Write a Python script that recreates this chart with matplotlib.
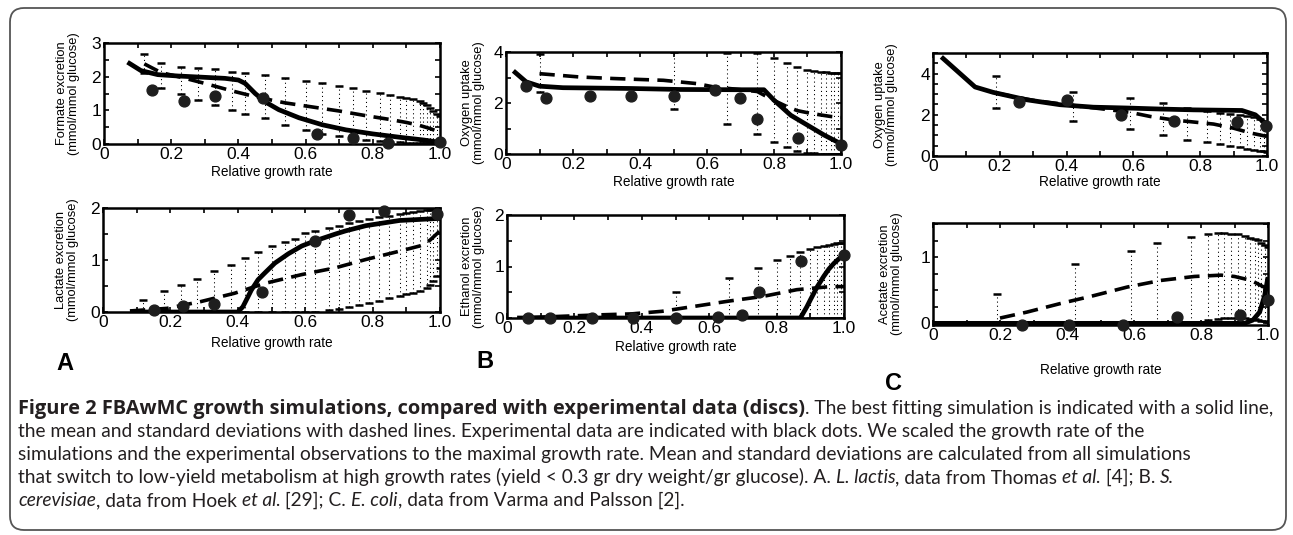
import numpy as np
import matplotlib
matplotlib.use('Agg')
import matplotlib.pyplot as plt
from matplotlib.patches import FancyBboxPatch
from matplotlib.transforms import IdentityTransform
from matplotlib.ticker import MultipleLocator, FixedLocator

plt.rcParams['font.family'] = ['Liberation Sans', 'DejaVu Sans']
plt.rcParams['lines.scale_dashes'] = False

# ---- A top: formate excretion (L. lactis)
formate_fit_x = [0.07, 0.11, 0.16, 0.22, 0.30, 0.36, 0.40, 0.42, 0.45, 0.48, 0.52, 0.58, 0.65, 0.72, 0.80, 0.88, 0.95, 1.00]
formate_fit_y = [2.43, 2.18, 2.06, 2.02, 1.98, 1.95, 1.90, 1.80, 1.50, 1.25, 1.02, 0.78, 0.57, 0.42, 0.30, 0.20, 0.12, 0.05]
formate_mean_x = [0.12, 0.17, 0.23, 0.30, 0.38, 0.46, 0.54, 0.62, 0.70, 0.78, 0.85, 0.90, 0.94, 0.97, 1.00]
formate_mean_y = [2.38, 2.12, 1.98, 1.80, 1.58, 1.38, 1.22, 1.10, 0.98, 0.84, 0.73, 0.64, 0.55, 0.46, 0.35]
formate_bar_x = [0.12, 0.17, 0.23, 0.28, 0.33, 0.38, 0.42, 0.48, 0.54, 0.60, 0.65, 0.70, 0.74, 0.78, 0.82, 0.85, 0.88, 0.90, 0.92, 0.94, 0.95, 0.96, 0.97, 0.98, 0.99, 1.00]
formate_bar_hi = [2.68, 2.40, 2.30, 2.26, 2.22, 2.15, 2.12, 2.05, 1.97, 1.87, 1.80, 1.72, 1.65, 1.58, 1.52, 1.46, 1.41, 1.37, 1.33, 1.28, 1.22, 1.15, 1.08, 0.98, 0.90, 0.82]
formate_bar_lo = [2.10, 1.67, 1.50, 1.31, 1.15, 1.02, 0.88, 0.76, 0.55, 0.42, 0.31, 0.23, 0.17, 0.12, 0.08, 0.06, 0.05, 0.04, 0.03, 0.03, 0.02, 0.02, 0.02, 0.02, 0.02, 0.02]
formate_exp_x = [0.143, 0.237, 0.33, 0.474, 0.633, 0.74, 0.845, 1.0]
formate_exp_y = [1.59, 1.27, 1.43, 1.38, 0.31, 0.17, 0.03, 0.05]

# ---- B top: oxygen uptake (S. cerevisiae)
oxy_sc_fit_x = [0.022, 0.06, 0.10, 0.17, 0.37, 0.52, 0.70, 0.77, 0.80, 0.85, 0.90, 0.95, 1.00]
oxy_sc_fit_y = [3.26, 2.83, 2.66, 2.60, 2.57, 2.53, 2.52, 2.52, 2.11, 1.52, 1.13, 0.74, 0.40]
oxy_sc_mean_x = [0.10, 0.22, 0.32, 0.47, 0.57, 0.62, 0.68, 0.75, 0.80, 0.84, 0.87, 0.90, 0.94, 0.97, 1.00]
oxy_sc_mean_y = [3.15, 3.02, 2.96, 2.89, 2.76, 2.63, 2.55, 2.45, 2.10, 1.85, 1.70, 1.62, 1.53, 1.47, 1.43]
oxy_sc_bar_x = [0.10, 0.50, 0.66, 0.75, 0.80, 0.84, 0.87, 0.90, 0.92, 0.94, 0.955, 0.97, 0.98, 0.99, 1.00]
oxy_sc_bar_hi = [3.93, 4.00, 3.95, 3.96, 3.78, 3.57, 3.41, 3.30, 3.26, 3.23, 3.21, 3.19, 3.18, 3.17, 3.16]
oxy_sc_bar_lo = [2.44, 1.75, 1.16, 0.77, 0.48, 0.29, 0.13, 0.05, 0.02, 0.01, 0.0, 0.0, 0.0, 0.0, 0.0]
oxy_sc_exp_x = [0.06, 0.12, 0.25, 0.373, 0.50, 0.624, 0.70, 0.75, 0.873, 1.0]
oxy_sc_exp_y = [2.66, 2.18, 2.28, 2.28, 2.28, 2.50, 2.20, 1.37, 0.64, 0.35]

# ---- C top: oxygen uptake (E. coli)
oxy_ec_fit_x = [0.025, 0.126, 0.18, 0.28, 0.38, 0.48, 0.58, 0.68, 0.78, 0.925, 0.965, 1.0]
oxy_ec_fit_y = [4.81, 3.35, 3.09, 2.73, 2.49, 2.37, 2.33, 2.28, 2.24, 2.21, 2.00, 1.51]
oxy_ec_mean_x = [0.19, 0.30, 0.42, 0.50, 0.59, 0.65, 0.72, 0.78, 0.84, 0.90, 0.95, 1.00]
oxy_ec_mean_y = [3.05, 2.70, 2.45, 2.30, 2.12, 1.92, 1.75, 1.65, 1.55, 1.35, 1.12, 0.95]
oxy_ec_bar_x = [0.19, 0.42, 0.59, 0.69, 0.76, 0.82, 0.86, 0.89, 0.92, 0.94, 0.96, 0.98, 0.99, 1.0]
oxy_ec_bar_hi = [3.90, 3.10, 2.80, 2.58, 2.35, 2.20, 2.10, 2.05, 2.00, 1.95, 1.88, 1.78, 1.70, 1.60]
oxy_ec_bar_lo = [2.35, 1.70, 1.30, 1.00, 0.80, 0.68, 0.58, 0.50, 0.42, 0.36, 0.30, 0.25, 0.22, 0.20]
oxy_ec_exp_x = [0.258, 0.402, 0.563, 0.722, 0.909, 0.997]
oxy_ec_exp_y = [2.62, 2.70, 2.00, 1.72, 1.64, 1.46]

# ---- A bottom: lactate excretion
lactate_fit_x = [0.08, 0.20, 0.30, 0.40, 0.415, 0.43, 0.44, 0.46, 0.48, 0.51, 0.55, 0.59, 0.63, 0.69, 0.72, 0.78, 0.85, 0.88, 0.94, 1.00]
lactate_fit_y = [0.0, 0.0, 0.0, 0.0, 0.10, 0.29, 0.42, 0.62, 0.75, 0.94, 1.12, 1.27, 1.37, 1.50, 1.56, 1.66, 1.73, 1.76, 1.78, 1.80]
lactate_mean_x = [0.08, 0.19, 0.29, 0.39, 0.48, 0.59, 0.69, 0.78, 0.88, 0.94, 0.97, 1.00]
lactate_mean_y = [0.02, 0.07, 0.20, 0.36, 0.55, 0.72, 0.85, 1.01, 1.17, 1.27, 1.38, 1.56]
lactate_bar_x = [0.12, 0.18, 0.23, 0.28, 0.33, 0.38, 0.42, 0.46, 0.50, 0.54, 0.57, 0.60, 0.63, 0.67, 0.70, 0.73, 0.76, 0.79, 0.82, 0.85, 0.88, 0.90, 0.92, 0.94, 0.96, 0.97, 0.98, 0.99, 1.00]
lactate_bar_hi = [0.24, 0.41, 0.52, 0.63, 0.78, 0.91, 1.03, 1.16, 1.27, 1.35, 1.41, 1.51, 1.56, 1.61, 1.66, 1.71, 1.75, 1.79, 1.82, 1.85, 1.88, 1.90, 1.92, 1.94, 1.96, 1.97, 1.98, 1.99, 2.00]
lactate_bar_lo = [0.0, 0.0, 0.0, 0.0, 0.0, 0.0, 0.0, 0.0, 0.0, 0.0, 0.0, 0.0, 0.0, 0.03, 0.06, 0.10, 0.14, 0.18, 0.22, 0.26, 0.30, 0.34, 0.37, 0.41, 0.47, 0.52, 0.60, 0.70, 0.85]
lactate_exp_x = [0.15, 0.237, 0.33, 0.473, 0.63, 0.73, 0.835, 0.99]
lactate_exp_y = [0.03, 0.11, 0.16, 0.38, 1.37, 1.87, 1.95, 1.89]

# ---- B bottom: ethanol excretion
ethanol_fit_x = [0.03, 0.40, 0.87, 0.875, 0.89, 0.90, 0.92, 0.94, 0.955, 0.97, 0.985, 1.00]
ethanol_fit_y = [0.0, 0.0, 0.0, 0.05, 0.22, 0.35, 0.60, 0.81, 0.95, 1.06, 1.15, 1.23]
ethanol_mean_x = [0.07, 0.27, 0.37, 0.46, 0.56, 0.66, 0.76, 0.86, 0.91, 0.96, 1.00]
ethanol_mean_y = [0.01, 0.06, 0.08, 0.13, 0.23, 0.33, 0.42, 0.55, 0.58, 0.61, 0.61]
ethanol_bar_x = [0.50, 0.66, 0.745, 0.80, 0.84, 0.87, 0.90, 0.92, 0.94, 0.955, 0.97, 0.98, 0.99, 1.00]
ethanol_bar_hi = [0.50, 0.77, 0.97, 1.12, 1.21, 1.28, 1.34, 1.37, 1.40, 1.42, 1.44, 1.45, 1.46, 1.45]
ethanol_bar_lo = [0.0, 0.0, 0.0, 0.0, 0.0, 0.0, 0.0, 0.0, 0.0, 0.0, 0.0, 0.0, 0.0, 0.0]
ethanol_exp_x = [0.062, 0.128, 0.252, 0.375, 0.50, 0.627, 0.698, 0.748, 0.872, 1.0]
ethanol_exp_y = [0.0, 0.0, 0.0, 0.0, 0.0, 0.01, 0.05, 0.50, 1.10, 1.23]

# ---- C bottom: acetate excretion
acetate_fit_x = [0.0, 0.50, 0.93, 0.955, 0.975, 0.99, 1.0]
acetate_fit_y = [0.0, 0.0, 0.0, 0.05, 0.17, 0.42, 0.70]
acetate_mean_x = [0.20, 0.28, 0.38, 0.48, 0.58, 0.68, 0.78, 0.86, 0.90, 0.95, 0.98, 1.00]
acetate_mean_y = [0.08, 0.17, 0.30, 0.42, 0.55, 0.65, 0.71, 0.73, 0.71, 0.65, 0.57, 0.52]
acetate_bar_x = [0.19, 0.425, 0.59, 0.67, 0.77, 0.82, 0.85, 0.87, 0.89, 0.91, 0.93, 0.945, 0.96, 0.97, 0.98, 0.99, 1.0]
acetate_bar_hi = [0.45, 0.90, 1.10, 1.22, 1.31, 1.36, 1.37, 1.37, 1.36, 1.35, 1.33, 1.30, 1.28, 1.26, 1.22, 1.18, 1.15]
acetate_bar_lo = [0.0, 0.0, 0.0, 0.0, 0.02, 0.05, 0.07, 0.08, 0.08, 0.08, 0.08, 0.07, 0.06, 0.05, 0.04, 0.03, 0.02]
acetate_exp_x = [0.265, 0.407, 0.568, 0.729, 0.916, 1.0]
acetate_exp_y = [-0.03, -0.02, -0.02, 0.10, 0.13, 0.35]

x_ticks = [0, 0.2, 0.4, 0.6, 0.8, 1.0]
x_ticklabels = ['0', '0.2', '0.4', '0.6', '0.8', '1.0']

W, H = 1293.0, 535.0
fig = plt.figure(figsize=(W / 100, H / 100), dpi=100)


def px_rect(x0, y0, x1, y1):
    return [x0 / W, 1 - y1 / H, (x1 - x0) / W, (y1 - y0) / H]


def panel(rect, fit, mean, bars, exp, ylim, ymaj, ymin, ylabel, ygap, xgap):
    ax = fig.add_axes(px_rect(*rect))
    bx, blo, bhi = bars
    ax.vlines(bx, blo, bhi, colors='k', linestyles=[(0, (0.8, 2.2))], linewidth=0.75)
    ax.plot(bx, bhi, ls='none', marker='_', ms=6, mew=1.8, color='k')
    ax.plot(bx, blo, ls='none', marker='_', ms=6, mew=1.8, color='k')
    ax.plot(mean[0], mean[1], color='k', lw=2.6, dashes=(11, 6))
    ax.plot(fit[0], fit[1], color='k', lw=3.4, solid_capstyle='butt')
    ax.plot(exp[0], exp[1], 'o', color='#1e1e1e', ms=7.8, clip_on=False, zorder=5)

    ax.set_xlim(0, 1)
    ax.set_ylim(*ylim)
    ax.xaxis.set_major_locator(FixedLocator(x_ticks))
    ax.set_xticklabels(x_ticklabels)
    ax.xaxis.set_minor_locator(MultipleLocator(0.1))
    ax.yaxis.set_major_locator(MultipleLocator(ymaj))
    ax.yaxis.set_minor_locator(MultipleLocator(ymin))
    ax.tick_params(which='both', direction='in', top=True, right=True,
                   length=3.5, width=1.2, labelsize=12.5, pad=2)
    for s in ax.spines.values():
        s.set_linewidth(1.8)

    w = rect[2] - rect[0]
    h = rect[3] - rect[1]
    ax.set_ylabel(ylabel, fontsize=9.3, linespacing=1.0)
    ax.yaxis.set_label_coords(-ygap / w, 0.5)
    ax.set_xlabel('Relative growth rate', fontsize=9.8)
    ax.xaxis.set_label_coords(0.5, -xgap / h)
    return ax


unit = '(mmol/mmol glucose)'
panel((104, 43, 440, 144), (formate_fit_x, formate_fit_y), (formate_mean_x, formate_mean_y),
      (formate_bar_x, formate_bar_lo, formate_bar_hi), (formate_exp_x, formate_exp_y),
      (0, 3), 1, 0.5, 'Formate excretion\n' + unit, 24, 21)
panel((506, 52, 841, 154), (oxy_sc_fit_x, oxy_sc_fit_y), (oxy_sc_mean_x, oxy_sc_mean_y),
      (oxy_sc_bar_x, oxy_sc_bar_lo, oxy_sc_bar_hi), (oxy_sc_exp_x, oxy_sc_exp_y),
      (0, 4), 2, 1, 'Oxygen uptake\n' + unit, 21, 21)
panel((933, 53, 1267, 156), (oxy_ec_fit_x, oxy_ec_fit_y), (oxy_ec_mean_x, oxy_ec_mean_y),
      (oxy_ec_bar_x, oxy_ec_bar_lo, oxy_ec_bar_hi), (oxy_ec_exp_x, oxy_ec_exp_y),
      (0, 5), 2, 0.5, 'Oxygen uptake\n' + unit, 35, 19)
panel((103, 208, 440, 312), (lactate_fit_x, lactate_fit_y), (lactate_mean_x, lactate_mean_y),
      (lactate_bar_x, lactate_bar_lo, lactate_bar_hi), (lactate_exp_x, lactate_exp_y),
      (0, 2), 1, 0.5, 'Lactate excretion\n' + unit, 24, 24)
panel((507, 215, 844, 318), (ethanol_fit_x, ethanol_fit_y), (ethanol_mean_x, ethanol_mean_y),
      (ethanol_bar_x, ethanol_bar_lo, ethanol_bar_hi), (ethanol_exp_x, ethanol_exp_y),
      (0, 2), 1, 0.5, 'Ethanol excretion\n' + unit, 22, 22)
panel((933, 223, 1268, 325), (acetate_fit_x, acetate_fit_y), (acetate_mean_x, acetate_mean_y),
      (acetate_bar_x, acetate_bar_lo, acetate_bar_hi), (acetate_exp_x, acetate_exp_y),
      (-0.025, 1.52), 1, 0.25, 'Acetate excretion\n' + unit, 30, 38)

# panel letters
for letter, (lx, ly) in zip(['A', 'B', 'C'], [(65, 363), (485, 362), (893, 384)]):
    fig.text(lx / W, 1 - ly / H, letter, fontsize=17, fontweight='bold',
             ha='center', va='center')

# frame round the figure
box = FancyBboxPatch((10, 5), 1276, 522, boxstyle='round,pad=0,rounding_size=14',
                     transform=IdentityTransform(), fill=False, edgecolor='#555555', lw=1.3)
fig.add_artist(box)

# caption
cap_color = '#231f20'
reg_font = ['Lato', 'DejaVu Sans']
bold_font = ['Open Sans', 'DejaVu Sans']
caption = [
    [('Figure 2 FBAwMC growth simulations, compared with experimental data (discs)', 'bold', 'normal'),
     ('. The best fitting simulation is indicated with a solid line,', 'normal', 'normal')],
    [('the mean and standard deviations with dashed lines. Experimental data are indicated with black dots. We scaled the growth rate of the', 'normal', 'normal')],
    [('simulations and the experimental observations to the maximal growth rate. Mean and standard deviations are calculated from all simulations', 'normal', 'normal')],
    [('that switch to low-yield metabolism at high growth rates (yield < 0.3 gr dry weight/gr glucose). A. ', 'normal', 'normal'),
     ('L. lactis', 'normal', 'italic'),
     (', data from Thomas ', 'normal', 'normal'),
     ('et al.', 'normal', 'italic'),
     (' [4]; B. ', 'normal', 'normal'),
     ('S.', 'normal', 'italic')],
    [('cerevisiae', 'normal', 'italic'),
     (', data from Hoek ', 'normal', 'normal'),
     ('et al.', 'normal', 'italic'),
     (' [29]; C. ', 'normal', 'normal'),
     ('E. coli', 'normal', 'italic'),
     (', data from Varma and Palsson [2].', 'normal', 'normal')],
]
cap_baselines = [414, 437, 460, 483, 506]
renderer = fig.canvas.get_renderer()


def seg_width(txt, size, weight, style):
    fam = bold_font if weight == 'bold' else reg_font
    kw = dict(fontsize=size, fontweight=weight, fontstyle=style, family=fam)
    t1 = fig.text(0, 0, txt + '|', **kw)
    t2 = fig.text(0, 0, '|', **kw)
    w = t1.get_window_extent(renderer).width - t2.get_window_extent(renderer).width
    t1.remove()
    t2.remove()
    return w


# regular text sized on line 3, bold sized so line 1 reaches the right edge
trial = 12.0
reg_size = trial * (1190 - 18) / seg_width(caption[2][0][0], trial, 'normal', 'normal')
rest = seg_width(caption[0][1][0], reg_size, 'normal', 'normal')
bold_size = trial * (1275 - 18 - rest) / seg_width(caption[0][0][0], trial, 'bold', 'normal')

for segs, base in zip(caption, cap_baselines):
    x = 18.0
    for txt, wt, st in segs:
        size = bold_size if wt == 'bold' else reg_size
        fam = bold_font if wt == 'bold' else reg_font
        fig.text(x / W, 1 - base / H, txt, fontsize=size, fontweight=wt, fontstyle=st,
                 family=fam, color=cap_color, ha='left', va='baseline')
        x += seg_width(txt, size, wt, st)

fig.savefig('out.png', dpi=100)
